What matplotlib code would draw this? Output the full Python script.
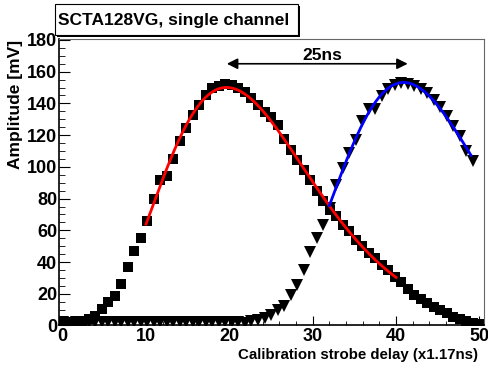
import numpy as np
import matplotlib.pyplot as plt
from matplotlib.patches import Rectangle

plt.rcParams['font.family'] = ['Liberation Sans', 'DejaVu Sans']
plt.rcParams['font.weight'] = 'bold'

# strobe delay steps (x1.17ns units)
delay = np.arange(65) * 50.0 / 64.0

# channel response, first calibration phase (squares)
amp_a = [1.5, 2.0, 2.5, 3.0, 4.0, 6.0, 10.5, 14.7, 18.9, 26.2,
         36.7, 46.7, 55.2, 65.7, 79.7, 91.9, 94.3, 104.9, 116.4, 124.8,
         132.8, 139.1, 145.4, 149.6, 151.0, 152.1, 151.7, 150.0, 147.5, 143.5,
         139.1, 134.3, 131.7, 126.5, 117.7, 110.8, 104.5, 98.2, 91.9, 85.0,
         78.2, 73.0, 68.8, 63.6, 59.3, 54.1, 49.9, 45.7, 42.6, 38.4,
         34.8, 30.6, 27.3, 23.1, 19.5, 16.8, 14.3, 11.8, 9.6, 7.6,
         5.5, 3.8, 2.7, 1.7, 1.2]

# channel response, second calibration phase (triangles)
amp_b = [2.0, 1.8, 2.0, 2.1, 1.9, 2.0, 2.2, 2.0, 1.9, 2.0,
         2.1, 2.0, 1.9, 2.0, 2.0, 2.1, 2.3, 2.1, 2.0, 2.2,
         2.0, 2.1, 2.3, 2.2, 2.1, 2.0, 2.2, 1.9, 1.7, 2.7,
         3.3, 4.8, 6.9, 9.5, 12.6, 19.5, 25.8, 34.8, 46.1, 55.2,
         63.6, 74.1, 88.7, 99.2, 108.7, 117.0, 129.0, 136.4, 136.4, 144.7,
         149.0, 151.7, 152.7, 152.3, 151.0, 149.0, 146.4, 142.2, 138.0, 132.2,
         125.9, 119.6, 109.7, 103.4, np.nan]

fit_a = (10.0, 40.0)
fit_b = (32.0, 49.0)

x_ticks = [0, 10, 20, 30, 40, 50]
y_ticks = [0, 20, 40, 60, 80, 100, 120, 140, 160, 180]


def crrc_fit(x, y, lo, hi):
    # A * (t-t0)^n * exp(-(t-t0)/tau), log-linear least squares with a scan over t0
    x = np.asarray(x)
    y = np.asarray(y, dtype=float)
    m = (x >= lo - 1e-9) & (x <= hi + 1e-9) & np.isfinite(y)
    xs, ys = x[m], y[m]
    best = None
    for t0 in np.linspace(lo - 25, lo - 0.2, 500):
        dt = xs - t0
        A = np.column_stack([np.ones_like(dt), np.log(dt), -dt])
        coef = np.linalg.lstsq(A, np.log(ys), rcond=None)[0]
        err = np.sum((np.exp(A @ coef) - ys) ** 2)
        if best is None or err < best[0]:
            best = (err, t0, coef)
    _, t0, coef = best
    xf = np.linspace(lo, hi, 300)
    dt = xf - t0
    return xf, np.exp(coef[0] + coef[1] * np.log(dt) - coef[2] * dt)


fig = plt.figure(figsize=(4.88, 3.67), dpi=100)
ax = fig.add_axes([0.1199, 0.1131, 0.8709, 0.7806])

ax.plot(delay, amp_a, 's', color='black', ms=7, mew=0)
ax.plot(delay, amp_b, 'v', color='black', ms=8.5, mew=0)

xa, ya = crrc_fit(delay, amp_a, *fit_a)
ax.plot(xa, ya, color='red', lw=2)
xb, yb = crrc_fit(delay, amp_b, *fit_b)
ax.plot(xb, yb, color='blue', lw=2)

# 25ns separation between the two peaks
ax.annotate('', xy=(19.7, 165), xytext=(41.4, 165),
            arrowprops=dict(arrowstyle='<|-|>', color='black', lw=1.2,
                            mutation_scale=16, shrinkA=0, shrinkB=0))
ax.text(31.2, 170.5, '25ns', ha='center', va='center', fontsize=12.5, fontweight='bold')

ax.set_xlim(-0.5, 50.5)
ax.set_ylim(0, 180.6)
ax.set_xticks(x_ticks)
ax.set_yticks(y_ticks)
ax.set_xticks(np.arange(0, 51, 2), minor=True)
ax.set_yticks(np.arange(0, 181, 5), minor=True)
ax.tick_params(axis='both', which='both', direction='in', labelsize=13)
ax.tick_params(axis='x', which='major', length=6.5, pad=2)
ax.tick_params(axis='x', which='minor', length=3.2)
ax.tick_params(axis='y', which='major', length=8, pad=1)
ax.tick_params(axis='y', which='minor', length=4)
for lab in ax.get_xticklabels() + ax.get_yticklabels():
    lab.set_fontweight('bold')

for side in ['top', 'right']:
    ax.spines[side].set_color('#666666')
    ax.spines[side].set_linewidth(0.8)
for side in ['left', 'bottom']:
    ax.spines[side].set_linewidth(1.2)

fig.text(478 / 488, 1 - 355 / 367, 'Calibration strobe delay (x1.17ns)',
         ha='right', va='center', fontsize=10.8, fontweight='bold')
fig.text(16 / 488, 1 - 40 / 367, 'Amplitude [mV]', rotation=90,
         ha='center', va='top', fontsize=12.5, fontweight='bold')

# title pave with shadow
fig.patches.append(Rectangle((57 / 488, 1 - 37 / 367), 243 / 488, 31 / 367,
                             transform=fig.transFigure, facecolor='black',
                             edgecolor='none', zorder=5))
fig.patches.append(Rectangle((55 / 488, 1 - 35 / 367), 243 / 488, 31 / 367,
                             transform=fig.transFigure, facecolor='white',
                             edgecolor='black', lw=0.8, zorder=6))
fig.text(58 / 488, 1 - 20 / 367, 'SCTA128VG, single channel',
         ha='left', va='center', fontsize=12.5, fontweight='bold', zorder=7)

fig.savefig('out.png', dpi=100)
